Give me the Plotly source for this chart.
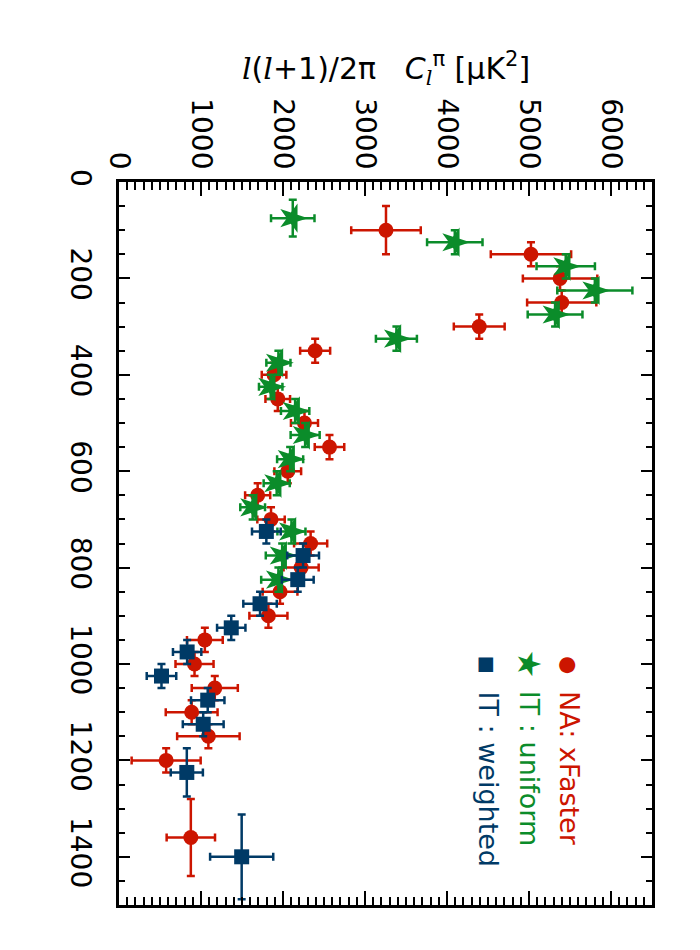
import plotly.graph_objects as go

# ---------------- data ----------------
# NA: xFaster (red circles)
na_ell = [100, 150, 200, 250, 300, 350, 400, 450, 500, 550, 600, 650, 700, 750, 800,
          850, 900, 950, 1000, 1050, 1100, 1150, 1200, 1360]
na_dl = [3256, 5024, 5379, 5399, 4393, 2392, 1891, 1936, 2262, 2567, 2058, 1691, 1854, 2337, 2221,
         1964, 1822, 1047, 921, 1168, 886, 1090, 575, 876]
na_err_dl = [424, 490, 454, 422, 310, 183, 150, 150, 165, 180, 163, 153, 167, 202, 214,
             212, 232, 218, 232, 281, 316, 381, 421, 295]
na_err_ell = [50, 25, 25, 25, 25, 25, 25, 25, 25, 25, 25, 25, 25, 25, 25,
              25, 25, 25, 25, 25, 25, 25, 25, 80]

# IT : uniform (green stars)
itu_ell = [75, 125, 175, 225, 275, 325, 375, 425, 475, 525, 575, 625, 675, 725, 775, 825]
itu_dl = [2119, 4095, 5448, 5803, 5318, 3383, 1944, 1850, 2148, 2270, 2087, 1923, 1630, 2103, 1990, 1944]
itu_err_dl = [265, 338, 356, 458, 334, 250, 147, 143, 173, 177, 159, 159, 151, 171, 200, 210]
itu_err_ell = [38, 25, 25, 25, 25, 25, 25, 25, 25, 25, 25, 25, 25, 25, 25, 25]

# IT : weighted (blue squares)
itw_ell = [725, 775, 825, 875, 925, 975, 1025, 1075, 1125, 1225, 1400]
itw_dl = [1797, 2245, 2180, 1720, 1369, 831, 518, 1082, 1027, 827, 1496]
itw_err_dl = [175, 194, 194, 204, 173, 173, 180, 204, 249, 196, 385]
itw_err_ell = [25, 25, 25, 25, 25, 25, 25, 25, 25, 50, 88]

power_ticks = [0, 1000, 2000, 3000, 4000, 5000, 6000]
ell_ticks = [0, 200, 400, 600, 800, 1000, 1200, 1400]

series_names = ["NA: xFaster", "IT : uniform", "IT : weighted"]

RED = "#cc1500"
GREEN = "#0b8c2a"
BLUE = "#003a66"
FONT = "DejaVu Sans"

fig = go.Figure()


def add_series(x, y, ex, ey, color, symbol, size, angle, name):
    fig.add_trace(go.Scatter(
        x=x, y=y, mode="markers", name=name, showlegend=False,
        marker=dict(color=color, symbol=symbol, size=size, angle=angle, line=dict(width=0)),
        error_x=dict(type="data", array=ex, color=color, thickness=2.5, width=4),
        error_y=dict(type="data", array=ey, color=color, thickness=2.5, width=4),
    ))


add_series(na_dl, na_ell, na_err_dl, na_err_ell, RED, "circle", 15, 0, series_names[0])
add_series(itu_dl, itu_ell, itu_err_dl, itu_err_ell, GREEN, "star", 22, 90, series_names[1])
add_series(itw_dl, itw_ell, itw_err_dl, itw_err_ell, BLUE, "square", 15, 0, series_names[2])

# ---- rotated legend (annotations) ----
leg = [
    (0.8456, "●", series_names[0], RED, 21),
    (0.769, "★", series_names[1], GREEN, 32),
    (0.6936, "■", series_names[2], BLUE, 19),
]
for xp, sym, txt, col, ss in leg:
    fig.add_annotation(x=xp, y=0.3324, xref="paper", yref="paper", text=sym, showarrow=False,
                       textangle=90, xanchor="center", yanchor="middle",
                       font=dict(family=FONT, size=ss, color=col))
    fig.add_annotation(x=xp, y=0.2985, xref="paper", yref="paper", text=txt, showarrow=False,
                       textangle=90, xanchor="center", yanchor="top",
                       font=dict(family=FONT, size=27, color=col))

# ---- axis title (horizontal, above the top axis) ----
L = "<span style=\"font-family:'DejaVu Serif'\"><i>l</i></span>"
fig.add_annotation(
    x=0.5, y=1 + (174 - 60) / 723, xref="paper", yref="paper", showarrow=False,
    xanchor="center", yanchor="middle",
    text=f"{L}({L}+1)/2π   <i>C</i><sub>{L}</sub><sup>π</sup> [μK<sup>2</sup>]",
    font=dict(family=FONT, size=30, color="black"),
)

axis_common = dict(
    showline=True, linecolor="black", linewidth=2.5, mirror="ticks",
    ticks="inside", tickcolor="black", tickwidth=2,
    showgrid=False, zeroline=False, tickangle=90,
    tickfont=dict(family=FONT, size=28, color="black"),
)

fig.update_xaxes(
    range=[0, 6500], side="top", tickmode="array", tickvals=power_ticks,
    ticktext=[str(v) for v in power_ticks], ticklen=14,
    minor=dict(tick0=0, dtick=100, ticks="inside", ticklen=8, tickwidth=1.5, tickcolor="black"),
    **axis_common,
)
fig.update_yaxes(
    range=[1500, 0], tickmode="array", tickvals=ell_ticks,
    ticktext=[str(v) for v in ell_ticks], ticklen=11, ticklabelstandoff=12,
    minor=dict(tick0=0, dtick=50, ticks="inside", ticklen=6, tickwidth=1.5, tickcolor="black"),
    **axis_common,
)

fig.update_layout(
    width=700, height=950,
    margin=dict(l=111, r=56, t=174, b=53),
    plot_bgcolor="white", paper_bgcolor="white",
    showlegend=False,
)

fig.write_html("out.html")
